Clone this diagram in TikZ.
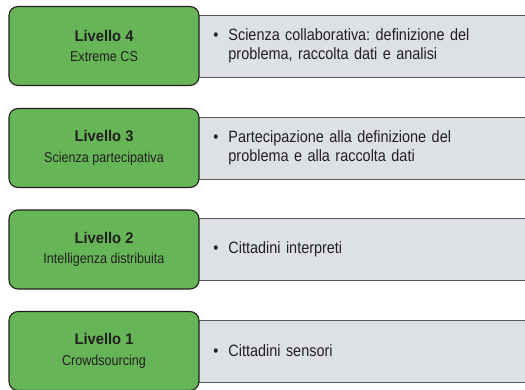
\documentclass[tikz,border=0pt]{standalone}
\usepackage{fontspec}
\setmainfont{Liberation Sans}[FakeStretch=0.88, BoldFeatures={FakeStretch=0.95}]
\usepackage{xcolor}
\usepackage{tikz}
\definecolor{livgreen}{HTML}{66B556}
\definecolor{descgray}{HTML}{DDE1E5}
\definecolor{inkdark}{HTML}{231F20}

\tikzset{
  livello/.style={draw=inkdark, line width=1.1pt, fill=livgreen, rounded corners=9pt,
    minimum width=190pt, minimum height=79pt, align=center, text=inkdark,
    font=\fontsize{14.3}{20.5}\selectfont},
  descr/.style={draw=inkdark!75, line width=0.9pt, fill=descgray, anchor=west,
    minimum height=62pt, text width=300pt, inner xsep=18pt, align=left, text=inkdark,
    font=\fontsize{16.4}{19.5}\selectfont}
}
\newcommand{\punto}{\makebox[15pt][l]{\textbullet}}
\newcommand{\rientro}{\hspace*{15pt}}
\newcommand{\titolo}[1]{{\fontsize{15.5}{20.5}\selectfont\bfseries #1}}

\begin{document}
\frenchspacing
\begin{tikzpicture}[x=1pt,y=-1pt]
    \useasboundingbox (0,0) rectangle (525,389);
    \clip (0,0) rectangle (525,389);
    % descrizioni
    \node[descr] (d4) at (195,46) {\punto Scienza collaborativa: definizione del\\\rientro problema, raccolta dati e analisi};
    \node[descr] (d3) at (195,148) {\punto Partecipazione alla definizione del\\\rientro problema e alla raccolta dati};
    \node[descr] (d2) at (195,249) {\punto Cittadini interpreti};
    \node[descr] (d1) at (195,351) {\punto Cittadini sensori};
    % livelli
    \node[livello] (l4) at (104,46) {\titolo{Livello 4}\\Extreme CS};
    \node[livello] (l3) at (104,148) {\titolo{Livello 3}\\Scienza partecipativa};
    \node[livello] (l2) at (104,249.5) {\titolo{Livello 2}\\Intelligenza distribuita};
    \node[livello] (l1) at (104,351) {\titolo{Livello 1}\\Crowdsourcing};
  \end{tikzpicture}
\end{document}
